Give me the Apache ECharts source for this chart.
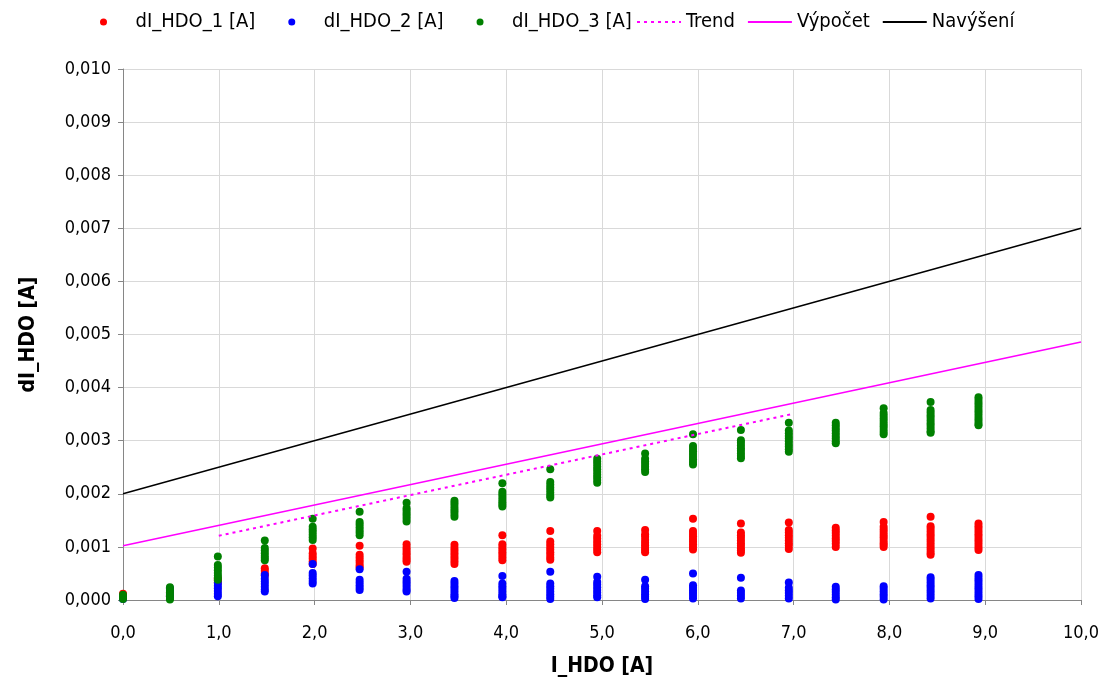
<!DOCTYPE html>
<html>
<head>
<meta charset="utf-8">
<script src="https://cdn.jsdelivr.net/npm/echarts@6/dist/echarts.min.js"></script>
<style>
  html, body { margin: 0; padding: 0; background: #fff; }
  #chart { width: 1109px; height: 686px; }
</style>
</head>
<body>
<div id="chart"></div>
<script>
// measured current steps (slightly under the nominal 0,5 A grid)
const xs = [0.0, 0.49, 0.99, 1.48, 1.98, 2.47, 2.96, 3.46, 3.96, 4.46, 4.95, 5.45, 5.95, 6.45, 6.95, 7.44, 7.94, 8.43, 8.93]

// dI_HDO_1 [A] - readings per step
const dI1 = [
    [0.00012, 0.00009, 0.00006],
    [0.00014, 0.00010, 0.00007],
    [0.00041, 0.00037, 0.00033],
    [0.00060, 0.00055, 0.00050, 0.00046],
    [0.00097, 0.00088, 0.00083, 0.00078, 0.00073, 0.00068],
    [0.00102, 0.00085, 0.00080, 0.00075, 0.00070, 0.00065, 0.00061],
    [0.00105, 0.00099, 0.00094, 0.00089, 0.00085, 0.00080, 0.00076, 0.00072],
    [0.00104, 0.00098, 0.00093, 0.00088, 0.00083, 0.00078, 0.00073, 0.00068],
    [0.00122, 0.00105, 0.00100, 0.00095, 0.00090, 0.00085, 0.00080, 0.00075],
    [0.00130, 0.00110, 0.00105, 0.00100, 0.00095, 0.00090, 0.00085, 0.00080, 0.00076],
    [0.00130, 0.00121, 0.00116, 0.00110, 0.00105, 0.00100, 0.00095, 0.00090],
    [0.00132, 0.00124, 0.00119, 0.00113, 0.00108, 0.00103, 0.00098, 0.00094, 0.00090],
    [0.00153, 0.00130, 0.00125, 0.00120, 0.00115, 0.00110, 0.00105, 0.00100, 0.00095],
    [0.00144, 0.00127, 0.00122, 0.00117, 0.00112, 0.00107, 0.00102, 0.00097, 0.00093, 0.00089],
    [0.00146, 0.00132, 0.00127, 0.00122, 0.00117, 0.00112, 0.00107, 0.00102, 0.00096],
    [0.00136, 0.00131, 0.00126, 0.00121, 0.00116, 0.00111, 0.00106, 0.00100],
    [0.00147, 0.00138, 0.00133, 0.00128, 0.00123, 0.00118, 0.00113, 0.00108, 0.00104, 0.00100],
    [0.00157, 0.00139, 0.00134, 0.00129, 0.00124, 0.00119, 0.00114, 0.00109, 0.00104, 0.00099, 0.00094, 0.00089, 0.00085],
    [0.00144, 0.00139, 0.00134, 0.00129, 0.00124, 0.00119, 0.00114, 0.00109, 0.00104, 0.00099, 0.00094]
]

// dI_HDO_2 [A]
const dI2 = [
    [0.00004, 0.00002],
    [0.00022, 0.00017, 0.00012, 0.00007],
    [0.00032, 0.00027, 0.00022, 0.00017, 0.00012, 0.00007],
    [0.00047, 0.00040, 0.00035, 0.00030, 0.00025, 0.00020, 0.00016],
    [0.00068, 0.00051, 0.00046, 0.00041, 0.00036, 0.00031],
    [0.00058, 0.00038, 0.00033, 0.00028, 0.00023, 0.00019],
    [0.00053, 0.00040, 0.00035, 0.00030, 0.00025, 0.00020, 0.00016],
    [0.00036, 0.00031, 0.00026, 0.00021, 0.00016, 0.00011, 0.00007, 0.00004],
    [0.00045, 0.00031, 0.00026, 0.00021, 0.00016, 0.00011, 0.00007, 0.00005],
    [0.00053, 0.00031, 0.00026, 0.00021, 0.00016, 0.00011, 0.00006, 0.00002],
    [0.00044, 0.00034, 0.00029, 0.00024, 0.00019, 0.00014, 0.00009, 0.00005],
    [0.00038, 0.00026, 0.00021, 0.00016, 0.00011, 0.00006, 0.00002],
    [0.00050, 0.00028, 0.00023, 0.00018, 0.00013, 0.00008, 0.00003],
    [0.00042, 0.00018, 0.00013, 0.00008, 0.00003],
    [0.00033, 0.00023, 0.00018, 0.00013, 0.00008, 0.00003],
    [0.00025, 0.00020, 0.00015, 0.00010, 0.00005, 0.00001],
    [0.00026, 0.00021, 0.00016, 0.00011, 0.00006, 0.00001],
    [0.00043, 0.00038, 0.00033, 0.00028, 0.00023, 0.00018, 0.00013, 0.00008, 0.00003],
    [0.00047, 0.00042, 0.00037, 0.00032, 0.00027, 0.00022, 0.00017, 0.00012, 0.00007, 0.00002]
]

// dI_HDO_3 [A]
const dI3 = [
    [0.00010, 0.00006, 0.00002],
    [0.00024, 0.00019, 0.00014, 0.00009, 0.00004, 0.00001],
    [0.00082, 0.00066, 0.00061, 0.00056, 0.00051, 0.00046, 0.00042, 0.00038],
    [0.00112, 0.00098, 0.00093, 0.00088, 0.00083, 0.00079, 0.00075],
    [0.00153, 0.00138, 0.00133, 0.00128, 0.00123, 0.00118, 0.00113],
    [0.00166, 0.00147, 0.00142, 0.00137, 0.00132, 0.00127, 0.00122],
    [0.00183, 0.00173, 0.00168, 0.00163, 0.00158, 0.00153, 0.00148],
    [0.00187, 0.00182, 0.00177, 0.00172, 0.00167, 0.00162, 0.00157],
    [0.00220, 0.00204, 0.00199, 0.00194, 0.00189, 0.00184, 0.00180, 0.00176],
    [0.00246, 0.00222, 0.00217, 0.00212, 0.00207, 0.00202, 0.00197, 0.00193],
    [0.00266, 0.00261, 0.00256, 0.00251, 0.00246, 0.00241, 0.00236, 0.00231, 0.00226, 0.00221],
    [0.00276, 0.00266, 0.00261, 0.00256, 0.00251, 0.00246, 0.00241],
    [0.00312, 0.00290, 0.00285, 0.00280, 0.00275, 0.00270, 0.00265, 0.00260, 0.00255],
    [0.00320, 0.00301, 0.00296, 0.00291, 0.00286, 0.00281, 0.00276, 0.00271, 0.00267],
    [0.00334, 0.00319, 0.00314, 0.00309, 0.00304, 0.00299, 0.00294, 0.00289, 0.00284, 0.00279],
    [0.00334, 0.00329, 0.00324, 0.00319, 0.00314, 0.00309, 0.00304, 0.00299, 0.00295],
    [0.00361, 0.00352, 0.00347, 0.00342, 0.00337, 0.00332, 0.00327, 0.00322, 0.00317, 0.00312],
    [0.00373, 0.00358, 0.00353, 0.00348, 0.00343, 0.00338, 0.00333, 0.00328, 0.00323, 0.00318, 0.00315],
    [0.00382, 0.00377, 0.00372, 0.00367, 0.00362, 0.00357, 0.00352, 0.00347, 0.00342, 0.00337, 0.00332, 0.00329]
]

// straight lines, [x, y] end points
const trend = [[1.0, 0.00121], [6.98, 0.00350]]
const vypocet = [[0, 0.00102], [10, 0.00486]]
const navyseni = [[0, 0.002], [10, 0.007]]

const seriesNames = ['dI_HDO_1 [A]', 'dI_HDO_2 [A]', 'dI_HDO_3 [A]', 'Trend', 'Výpočet', 'Navýšení']

const font = '"Liberation Sans Narrow", "DejaVu Sans Condensed", "Open Sans", sans-serif'

function toPoints(groups) {
    let pts = []
    groups.forEach((g, i) => g.forEach(v => pts.push([xs[i], v])))
    return pts
}

function dots(name, data, color) {
    return {
        name: name,
        type: 'scatter',
        data: toPoints(data),
        symbol: 'circle',
        symbolSize: 8,
        itemStyle: { color: color, opacity: 1 },
        z: 2
    }
}

function line(name, data, color, type, width) {
    return {
        name: name,
        type: 'line',
        data: data,
        showSymbol: false,
        symbol: 'none',
        lineStyle: { color: color, width: width, type: type },
        itemStyle: { color: color },
        z: 3
    }
}

// legend entries for lines: line only, no marker
const lineLegend = name => ({ name: name, itemStyle: { opacity: 0 } })

const legendText = { fontSize: 20, color: '#000', fontFamily: font }

const option = {
    animation: false,
    textStyle: { fontFamily: font },
    // two legends, so the marker entries and the line entries can have their own spacing
    legend: [
        {
            top: 7,
            left: 95,
            itemWidth: 54,
            itemHeight: 7,
            itemGap: 33,
            textStyle: legendText,
            data: [
                { name: seriesNames[0], icon: 'circle' },
                { name: seriesNames[1], icon: 'circle' },
                { name: seriesNames[2], icon: 'circle' }
            ]
        },
        {
            top: 7,
            left: 631,
            itemWidth: 44,
            itemHeight: 7,
            itemGap: 12,
            textStyle: legendText,
            data: [
                lineLegend(seriesNames[3]),
                lineLegend(seriesNames[4]),
                lineLegend(seriesNames[5])
            ]
        }
    ],
    grid: { left: 123, right: 28, top: 69, bottom: 86 },
    xAxis: {
        type: 'value',
        min: 0,
        max: 10,
        interval: 1,
        name: 'I_HDO [A]',
        nameLocation: 'middle',
        nameGap: 56,
        nameTextStyle: { fontSize: 21, fontWeight: 'bold', color: '#000', fontFamily: font },
        axisLine: { show: true, lineStyle: { color: '#868686' } },
        axisTick: { show: true, length: 5, lineStyle: { color: '#868686' } },
        axisLabel: {
            fontSize: 18, color: '#000', margin: 24,
            formatter: v => v.toFixed(1).replace('.', ',')
        },
        splitLine: { show: true, lineStyle: { color: '#d9d9d9' } }
    },
    yAxis: {
        type: 'value',
        min: 0,
        max: 0.010,
        interval: 0.001,
        name: 'dI_HDO [A]',
        nameLocation: 'middle',
        nameGap: 84,
        nameTextStyle: { fontSize: 21, fontWeight: 'bold', color: '#000', fontFamily: font },
        axisLine: { show: true, lineStyle: { color: '#868686' } },
        axisTick: { show: true, length: 5, lineStyle: { color: '#868686' } },
        axisLabel: {
            fontSize: 18, color: '#000', margin: 12,
            formatter: v => v.toFixed(3).replace('.', ',')
        },
        splitLine: { show: true, lineStyle: { color: '#d9d9d9' } }
    },
    series: [
        dots(seriesNames[0], dI1, '#ff0000'),
        dots(seriesNames[1], dI2, '#0000ff'),
        dots(seriesNames[2], dI3, '#008000'),
        line(seriesNames[3], trend, '#ff00ff', [3, 4], 2),
        line(seriesNames[4], vypocet, '#ff00ff', 'solid', 1.5),
        line(seriesNames[5], navyseni, '#000000', 'solid', 1.5)
    ]
}

let mychart = echarts.init(document.getElementById('chart'))
mychart.setOption(option)
</script>
</body>
</html>
